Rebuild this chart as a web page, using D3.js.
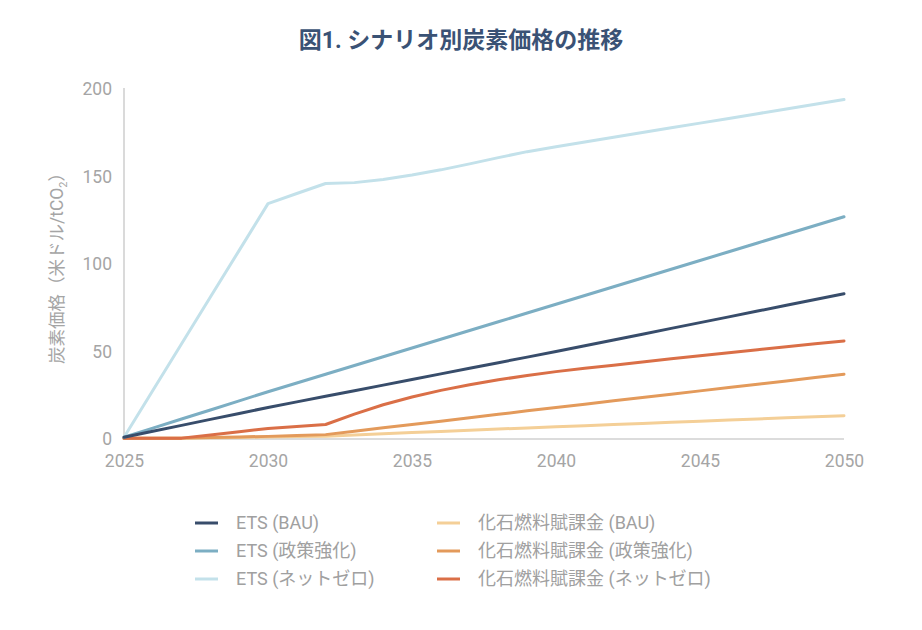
<!DOCTYPE html>
<html>
<head>
<meta charset="utf-8">
<script src="https://cdn.jsdelivr.net/npm/d3@7"></script>
<style>
  body { margin: 0; background: #fff; }
  text { font-family: Roboto, "Noto Sans CJK JP", sans-serif; }
</style>
</head>
<body>
<div id="chart"></div>
<script>
// data
var years = [2025, 2026, 2027, 2028, 2029, 2030, 2031, 2032, 2033, 2034, 2035, 2036, 2037, 2038, 2039, 2040,
             2041, 2042, 2043, 2044, 2045, 2046, 2047, 2048, 2049, 2050];

var etsBau    = [1, 4.4, 7.8, 11.2, 14.6, 18, 21.2, 24.4, 27.6, 30.8, 34, 37.2, 40.4, 43.6, 46.8, 50, 53.3, 56.6, 59.9, 63.2, 66.5, 69.8, 73.1, 76.4, 79.7, 83];
var etsPolicy = [1, 6.2, 11.4, 16.6, 21.8, 27, 32, 37, 42, 47, 52, 57, 62, 67, 72, 77, 82, 87, 92, 97, 102, 107, 112, 117, 122, 127];
var etsNetZero = [1, 27.7, 54.4, 81.1, 107.8, 134.5, 140.3, 146, 146.5, 148.3, 150.8, 153.8, 157.2, 160.8, 164.2, 167,
                  169.7, 172.4, 175.1, 177.8, 180.5, 183.2, 185.9, 188.6, 191.3, 194];
var fuelBau    = [0.5, 0.5, 0.5, 0.7, 0.9, 1.2, 1.4, 1.6, 2.3, 3, 3.7, 4.3, 5, 5.7, 6.3, 7, 7.6, 8.3, 8.9, 9.6, 10.2, 10.8, 11.4, 12.1, 12.7, 13.3];
var fuelPolicy = [0.5, 0.5, 0.5, 0.9, 1.2, 1.5, 2, 2.5, 4.4, 6.4, 8.3, 10.2, 12.2, 14.1, 16.1, 18, 19.9, 21.8, 23.7, 25.6, 27.5, 29.4, 31.3, 33.2, 35.1, 37];
var fuelNetZero = [0.5, 0.5, 0.5, 2.3, 4.2, 6, 7.2, 8.3, 14.2, 19.6, 24, 27.8, 31, 33.8, 36.3, 38.5, 40.4, 42.2, 44, 45.8, 47.6, 49.3, 51, 52.7, 54.4, 56];

var seriesNames = ["ETS (BAU)", "ETS (政策強化)", "ETS (ネットゼロ)",
                   "化石燃料賦課金 (BAU)", "化石燃料賦課金 (政策強化)", "化石燃料賦課金 (ネットゼロ)"];
var seriesColors = ["#384d6b", "#7caec3", "#c3e1ea", "#f4cf97", "#e39a5b", "#da6f47"];
var xTicks = [2025, 2030, 2035, 2040, 2045, 2050];
var yTicks = [0, 50, 100, 150, 200];

var series = [etsBau, etsPolicy, etsNetZero, fuelBau, fuelPolicy, fuelNetZero];

var svgWidth = 922, svgHeight = 630;

var svg = d3.select("#chart").append("svg")
  .attr("width", svgWidth)
  .attr("height", svgHeight);

var x = d3.scaleLinear().domain([2025, 2050]).range([124, 844]);
var y = d3.scaleLinear().domain([0, 200]).range([439, 89]);

// title
svg.append("text")
  .attr("x", 461)
  .attr("y", 48)
  .attr("text-anchor", "middle")
  .attr("font-size", "23px")
  .attr("font-weight", "bold")
  .attr("fill", "#3a5275")
  .text("図1. シナリオ別炭素価格の推移");

// y axis line
svg.append("line")
  .attr("x1", 124).attr("x2", 124)
  .attr("y1", 88).attr("y2", 439)
  .attr("stroke", "#b5b5b5")
  .attr("stroke-width", 1);

// baseline at zero
svg.append("line")
  .attr("x1", 124).attr("x2", 844)
  .attr("y1", y(0)).attr("y2", y(0))
  .attr("stroke", "#dcdcdc")
  .attr("stroke-width", 2);

// y ticks
var leftAxis = d3.axisLeft(y).tickValues(yTicks).tickSize(0).tickPadding(12);
var gy = svg.append("g").attr("transform", "translate(124,0)").call(leftAxis);
gy.select(".domain").remove();
gy.selectAll("text")
  .attr("font-size", "17.5px")
  .attr("fill", "#a5a5a5")
  .attr("font-family", "Roboto, sans-serif");

// x ticks
var bottomAxis = d3.axisBottom(x).tickValues(xTicks).tickFormat(d3.format("d")).tickSize(0).tickPadding(16);
var gx = svg.append("g").attr("transform", "translate(0,439)").call(bottomAxis);
gx.select(".domain").remove();
gx.selectAll("text")
  .attr("font-size", "17.5px")
  .attr("fill", "#a5a5a5")
  .attr("font-family", "Roboto, sans-serif");

// y axis label
var ylab = svg.append("text")
  .attr("transform", "translate(63,264) rotate(-90)")
  .attr("text-anchor", "middle")
  .attr("font-size", "17.5px")
  .attr("fill", "#a5a5a5");
ylab.append("tspan").text("炭素価格（米ドル/tCO");
ylab.append("tspan").attr("font-size", "11px").attr("dy", 4).text("2");
ylab.append("tspan").attr("dy", -4).text("）");

// lines
var line = d3.line()
  .x(function(d, i) { return x(years[i]); })
  .y(function(d) { return y(d); });

// draw order: fossil lines first, then ETS on top
var order = [3, 4, 5, 2, 1, 0];
order.forEach(function(k) {
  svg.append("path")
    .datum(series[k])
    .attr("d", line)
    .attr("fill", "none")
    .attr("stroke", seriesColors[k])
    .attr("stroke-width", 3)
    .attr("stroke-linejoin", "round")
    .attr("stroke-linecap", "round");
});

// legend
var legendCols = [195, 437];
var legendRows = [523, 551, 579];
seriesNames.forEach(function(name, i) {
  var col = Math.floor(i / 3), row = i % 3;
  var lx = legendCols[col], ly = legendRows[row];
  svg.append("line")
    .attr("x1", lx).attr("x2", lx + 23)
    .attr("y1", ly).attr("y2", ly)
    .attr("stroke", seriesColors[i])
    .attr("stroke-width", 3);
  svg.append("text")
    .attr("x", lx + 41)
    .attr("y", ly)
    .attr("dy", "0.35em")
    .attr("font-size", "18px")
    .attr("fill", "#a0a0a0")
    .text(name);
});
</script>
</body>
</html>
